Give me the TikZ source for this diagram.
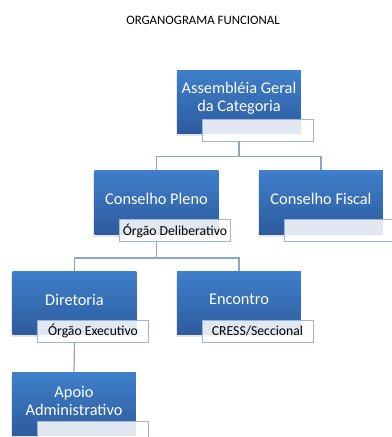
\documentclass[tikz,border=0pt]{standalone}
\usepackage{fontspec}
\setmainfont{Carlito}
\usetikzlibrary{shadows}

\definecolor{boxtop}{HTML}{3F7FCB}
\definecolor{boxbot}{HTML}{2D5B9D}
\definecolor{tagline}{HTML}{9DB5D8}
\definecolor{linkcol}{HTML}{8DA5C6}

\tikzset{
  unit/.style={rectangle, minimum width=2.48cm, minimum height=1.28cm,
    top color=boxtop, bottom color=boxbot,
    drop shadow={shadow xshift=-0.03cm, shadow yshift=-0.05cm, opacity=0.2},
    label={[unittext]center:{#1}}},
  unittext/.style={text=white, align=center, yshift=2pt,
    font=\fontsize{9.3}{10.2}\selectfont},
  tag/.style={rectangle, minimum width=2.22cm, minimum height=0.44cm, inner sep=1pt,
    fill=white, fill opacity=0.86, text opacity=1, draw=tagline, draw opacity=1,
    line width=0.55pt, font=\fontsize{7.8}{9}\selectfont},
  link/.style={draw=linkcol, line width=0.7pt}
}

\begin{document}
\begin{tikzpicture}[x=0.02cm,y=-0.02cm]
   \useasboundingbox (0,0) rectangle (392,437);
   \clip (0,0) rectangle (392,437);
   \node[font=\fontsize{7.3}{9}\selectfont] (title) at (203,20) {ORGANOGRAMA FUNCIONAL};

   % units
   \node[unit={Assembléia Geral\\da Categoria}] (assem) at (239,102) {};
   \node[unit={Conselho Pleno}] (pleno) at (156.5,202.5) {};
   \node[unit={Conselho Fiscal}] (fiscal) at (321,202.5) {};
   \node[unit={Diretoria}] (diret) at (74.5,303) {};
   \node[unit={Encontro}] (encon) at (239,303) {};
   \node[unit={Apoio\\Administrativo}] (apoio) at (74,404) {};

   % tags
   \node[tag] (assemtag) at ([shift={(18.5,28)}]assem.center) {};
   \node[tag] (plenotag) at ([shift={(18.5,28)}]pleno.center) {Órgão Deliberativo};
   \node[tag] (fiscaltag) at ([shift={(18.5,28)}]fiscal.center) {};
   \node[tag] (direttag) at ([shift={(18.5,28)}]diret.center) {Órgão Executivo};
   \node[tag] (encontag) at ([shift={(18.5,28)}]encon.center) {CRESS/Seccional};
   \node[tag] (apoiotag) at ([shift={(18.5,28)}]apoio.center) {};

   % links
   \draw[link] (assem.center |- assemtag.south) -- ++(0,15) coordinate (j1);
   \draw[link] (pleno.north) |- (j1) -| (fiscal.north);
   \draw[link] (pleno.center |- plenotag.south) -- ++(0,16) coordinate (j2);
   \draw[link] (diret.north) |- (j2) -| (encon.north);
   \draw[link] (diret.center |- direttag.south) -- (apoio.north);
\end{tikzpicture}
\end{document}
